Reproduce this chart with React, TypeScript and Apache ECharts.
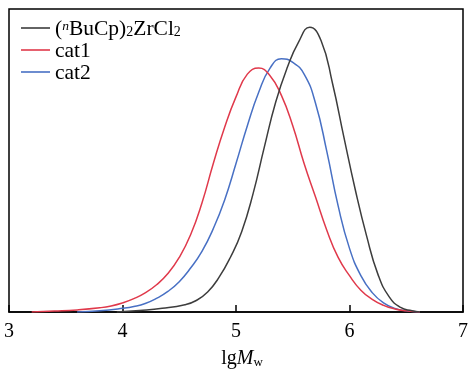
import React, { useEffect, useRef } from "react";
import * as echarts from "echarts";

const seriesNames = ["(nBuCp)2ZrCl2", "cat1", "cat2"];
const seriesColors = ["#3d3d3d", "#e0394b", "#4870c4"];

const xTicks = [3, 4, 5, 6, 7];

// lgMw, normalized height
const blackX = [3.95, 4.15, 4.35, 4.55, 4.65, 4.75, 4.85, 4.95, 5.05, 5.15, 5.25, 5.35, 5.45, 5.55, 5.65, 5.75, 5.85, 5.95, 6.05, 6.15, 6.25, 6.35, 6.45, 6.55, 6.62];
const blackY = [0, 0.005, 0.012, 0.024, 0.038, 0.066, 0.114, 0.18, 0.265, 0.39, 0.545, 0.693, 0.805, 0.89, 0.94, 0.895, 0.755, 0.578, 0.405, 0.252, 0.125, 0.05, 0.015, 0.004, 0];

const redX = [3.2, 3.4, 3.6, 3.8, 3.9, 4.0, 4.1, 4.2, 4.3, 4.4, 4.5, 4.6, 4.7, 4.8, 4.9, 5.0, 5.1, 5.2, 5.3, 5.4, 5.5, 5.6, 5.7, 5.8, 5.9, 6.0, 6.1, 6.2, 6.3, 6.4, 6.5, 6.62];
const redY = [0, 0.003, 0.007, 0.014, 0.02, 0.03, 0.044, 0.063, 0.09, 0.127, 0.18, 0.255, 0.36, 0.49, 0.61, 0.71, 0.785, 0.805, 0.78, 0.715, 0.615, 0.49, 0.38, 0.27, 0.18, 0.12, 0.072, 0.042, 0.022, 0.01, 0.004, 0];

const blueX = [3.6, 3.8, 4.0, 4.1, 4.2, 4.3, 4.4, 4.5, 4.6, 4.7, 4.8, 4.9, 5.0, 5.1, 5.2, 5.3, 5.4, 5.5, 5.6, 5.7, 5.8, 5.9, 6.0, 6.1, 6.2, 6.3, 6.4, 6.5, 6.62];
const blueY = [0, 0.004, 0.012, 0.018, 0.028, 0.045, 0.068, 0.1, 0.145, 0.2, 0.275, 0.37, 0.49, 0.615, 0.725, 0.805, 0.836, 0.824, 0.785, 0.69, 0.53, 0.35, 0.21, 0.12, 0.064, 0.03, 0.012, 0.004, 0];

const FONT = "'Liberation Serif', 'Times New Roman', serif";

function pairs(xs: number[], ys: number[]) {
  return xs.map((x, i) => [x, ys[i]]);
}

export default function App() {
  const ref = useRef<HTMLDivElement>(null);
  useEffect(() => {
    if (!ref.current) return;
    const chart = echarts.init(ref.current, undefined, { renderer: "svg" });
    const datas = [pairs(blackX, blackY), pairs(redX, redY), pairs(blueX, blueY)];
    chart.setOption({
      animation: false,
      grid: {
        left: 9,
        top: 9,
        right: 5,
        bottom: 57,
        containLabel: false,
        outerBoundsMode: "none",
        show: true,
        borderColor: "#000",
        borderWidth: 1.5,
      },
      legend: {
        orient: "vertical",
        left: 16,
        top: 10,
        icon: "rect",
        itemWidth: 29,
        itemHeight: 1.6,
        itemGap: 0,
        data: seriesNames,
        textStyle: {
          fontFamily: FONT,
          fontSize: 21.5,
          color: "#000",
          lineHeight: 20,
          rich: {
            sup: { fontFamily: FONT, fontSize: 13.5, fontStyle: "italic", color: "#000", verticalAlign: "top", lineHeight: 14 },
            sub: { fontFamily: FONT, fontSize: 14, color: "#000", verticalAlign: "bottom", padding: [9, 0, 0, 0], lineHeight: 12 },
          },
        },
        formatter: (name: string) =>
          name === seriesNames[0] ? "({sup|n}BuCp){sub|2}ZrCl{sub|2}" : name,
      },
      xAxis: {
        type: "value",
        min: xTicks[0],
        max: xTicks[xTicks.length - 1],
        interval: 1,
        axisLine: { lineStyle: { color: "#000", width: 1.5 } },
        axisTick: { inside: true, length: 7, lineStyle: { color: "#000", width: 1.5 } },
        axisLabel: { fontFamily: FONT, fontSize: 20, color: "#000", margin: 8 },
        splitLine: { show: false },
        name: "lg{it|M}{sub|w}",
        nameLocation: "middle",
        nameGap: 33,
        nameTextStyle: {
          fontFamily: FONT,
          fontSize: 20,
          color: "#000",
          padding: [0, 0, 0, 12],
          rich: {
            it: { fontFamily: FONT, fontSize: 20, fontStyle: "italic", color: "#000" },
            sub: { fontFamily: FONT, fontSize: 13, color: "#000", padding: [10, 0, 0, 0] },
          },
        },
      },
      yAxis: {
        type: "value",
        min: 0,
        max: 1,
        show: false,
      },
      series: seriesNames.map((n, i) => ({
        name: n,
        type: "line",
        data: datas[i],
        symbol: "none",
        smooth: 0.5,
        lineStyle: { color: seriesColors[i], width: 1.5 },
        itemStyle: { color: seriesColors[i] },
        z: 3 - i,
      })),
    });
    return () => chart.dispose();
  }, []);
  return (
    <div
      ref={ref}
      style={{ position: "fixed", left: 0, top: 0, width: 468, height: 369 }}
    />
  );
}
